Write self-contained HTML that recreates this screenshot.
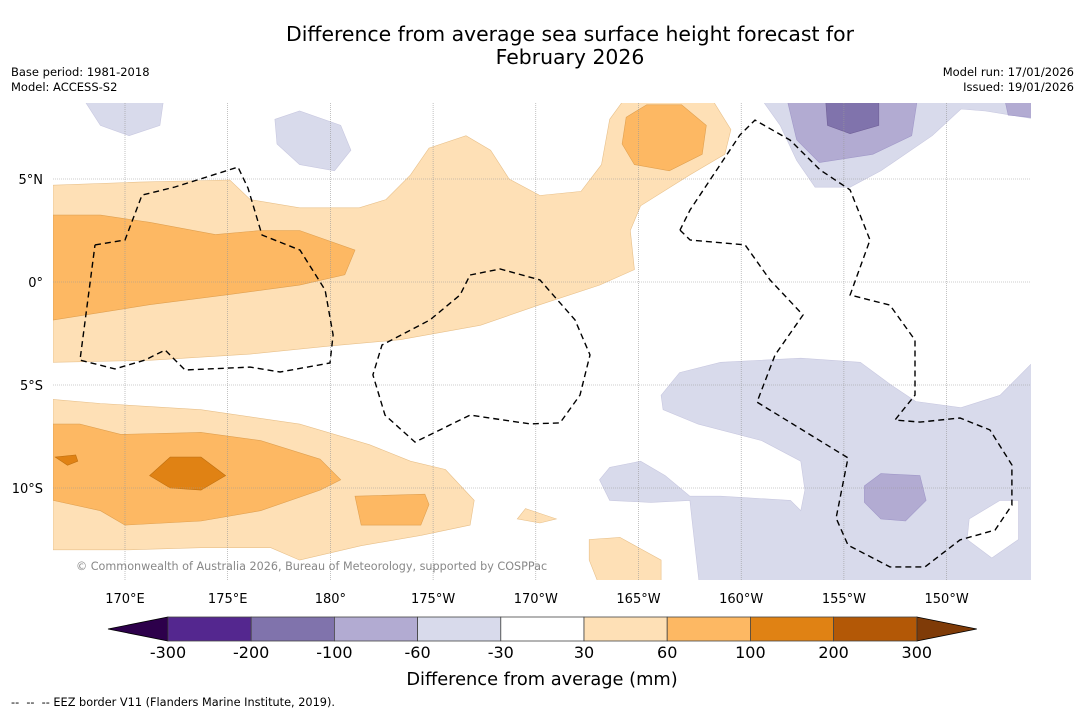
<!DOCTYPE html>
<html><head><meta charset="utf-8">
<style>
html,body{margin:0;padding:0;background:#fff;}
body{width:1085px;height:713px;overflow:hidden;font-family:"DejaVu Sans","Liberation Sans",sans-serif;}
svg text{font-family:"DejaVu Sans","Liberation Sans",sans-serif;}
</style></head>
<body>
<svg id="chart" width="1085" height="713" viewBox="0 0 1085 713" xmlns="http://www.w3.org/2000/svg">
<text x="570" y="41" font-size="20.4" text-anchor="middle" fill="#000">Difference from average sea surface height forecast for</text>
<text x="570" y="64" font-size="20.4" text-anchor="middle" fill="#000">February 2026</text>
<text x="11" y="76" font-size="11.5">Base period: 1981-2018</text>
<text x="11" y="91" font-size="11.5">Model: ACCESS-S2</text>
<text x="1074" y="76" font-size="11.5" text-anchor="end">Model run: 17/01/2026</text>
<text x="1074" y="91" font-size="11.5" text-anchor="end">Issued: 19/01/2026</text>
<defs><clipPath id="mapclip"><rect x="53" y="103" width="978" height="477"/></clipPath></defs>
<g id="map" clip-path="url(#mapclip)"></g>
<g id="axes"></g>
<text x="76" y="570" font-size="11.2" fill="#888">© Commonwealth of Australia 2026, Bureau of Meteorology, supported by COSPPac</text>
<g id="cbar"></g>
<text x="542" y="685" font-size="17.8" text-anchor="middle">Difference from average (mm)</text>
<text x="11" y="706" font-size="11.3">-- &#160;-- &#160;-- EEZ border V11 (Flanders Marine Institute, 2019).</text>
</svg>
<script>
// ---- data (lon in degrees east 0-360, lat in degrees) ----
const lightOrange = [
 [[166.5,4.7],[170.7,4.85],[175.1,4.95],[176.1,4.0],[178.5,3.6],[181.4,3.6],[182.7,4.0],[183.9,5.2],[184.8,6.5],[186.6,7.1],[187.8,6.4],[188.7,5.0],[190.2,4.2],[192.2,4.4],[193.2,5.7],[193.6,7.9],[194.4,9],[198.5,9],[199.5,7.4],[199.2,6.2],[197.5,5.2],[195.1,3.7],[194.6,2.5],[194.8,0.6],[193.1,-0.15],[190.2,-1.1],[187.3,-2.1],[183.4,-2.8],[180,-3.1],[176.1,-3.5],[171.2,-3.8],[166.5,-3.9]],
 [[166.5,-5.7],[168.8,-5.9],[173.7,-6.2],[178.5,-6.9],[181.9,-7.9],[183.9,-8.7],[185.6,-9.1],[187,-10.6],[186.8,-11.8],[184.4,-12.3],[181.5,-12.8],[178.5,-13.5],[177.1,-12.9],[173.7,-12.9],[170.2,-13],[166.5,-13]],
 [[192.6,-12.5],[194.1,-12.4],[196.1,-13.5],[196.1,-15],[193.2,-15],[192.6,-13.5]],
 [[189.1,-11.5],[189.5,-11],[191,-11.5],[190.2,-11.7]]
];
const midOrange = [
 [[166.5,3.25],[168.8,3.25],[171.2,2.9],[174.4,2.3],[176.6,2.5],[178.5,2.5],[181.2,1.55],[180.7,0.35],[178.5,-0.15],[175.1,-0.6],[171.2,-1.1],[166.5,-1.85]],
 [[166.5,-6.9],[167.8,-6.9],[169.8,-7.4],[173.7,-7.3],[176.6,-7.7],[179.5,-8.6],[180.5,-9.6],[179.5,-10.1],[176.6,-11.1],[173.7,-11.6],[170,-11.8],[168.8,-11.1],[166.5,-10.6]],
 [[181.2,-10.4],[184.6,-10.3],[184.8,-10.8],[184.4,-11.8],[181.5,-11.8]],
 [[194.4,8.0],[195.4,8.6],[197.1,8.6],[198.3,7.6],[198.1,6.2],[196.5,5.4],[194.8,5.7],[194.2,6.7]]
];
const darkOrange = [
 [[171.2,-9.4],[172.2,-8.5],[173.7,-8.5],[174.9,-9.4],[173.7,-10.1],[172.2,-10]],
 [[166.6,-8.5],[167.6,-8.4],[167.7,-8.7],[167.2,-8.9]]
];
const lightPurple = [
 [[167.9,9],[171.9,9],[171.7,7.6],[170.2,7.1],[168.8,7.6]],
 [[177.3,7.9],[178.5,8.3],[180.5,7.6],[181,6.4],[180.2,5.4],[178.5,5.7],[177.4,6.7]],
 [[200.9,9],[215,9],[215,7.8],[211.9,8.3],[210.7,8.4],[209.3,7.1],[206.8,5.4],[205.3,4.6],[203.6,4.6],[202.7,5.9],[201.9,7.6]],
 [[196.1,-5.5],[197,-4.4],[199,-3.9],[202.9,-3.7],[205.8,-3.9],[207.3,-5],[208.5,-5.8],[210.7,-6.1],[212.6,-5.5],[214.1,-4],[215,-3.6],[215,-15],[198,-15],[197.6,-11.5],[197.5,-10.6],[195.6,-10.7],[193.6,-10.6],[193.1,-9.6],[193.6,-9],[195.1,-8.7],[196.3,-9.4],[197.5,-10.4],[199,-10.4],[202.4,-10.6],[202.9,-11.1],[203.1,-10.1],[202.9,-8.7],[201,-7.7],[197.9,-6.9],[196.2,-6.2]]
];
const whiteHoles = [
 [[211.1,-11.5],[212.6,-10.6],[213.5,-10.6],[213.5,-12.5],[212.2,-13.4],[211,-12.5]]
];
const midPurple = [
 [[202.2,9],[208.6,9],[208.3,7.1],[206.4,6.2],[203.8,5.8],[202.7,6.9]],
 [[212.8,9],[215,9],[215,7.9],[213,8.1]],
 [[206,-9.9],[206.8,-9.3],[208.7,-9.4],[209,-10.6],[208,-11.6],[206.8,-11.5],[206,-10.7]]
];
const darkPurple = [
 [[204.1,9],[206.7,9],[206.7,7.6],[205.3,7.2],[204.2,7.6]]
];
const eezLines = [
 [[168.54,1.80],[170.0,2.04],[170.83,4.22],[172.43,4.61],[175.5,5.58],[175.99,4.56],[176.67,2.28],[178.52,1.55],[179.74,-0.39],[180.13,-2.57],[179.98,-3.93],[177.55,-4.37],[176.09,-4.13],[172.92,-4.27],[171.95,-3.3],[170.97,-3.79],[169.51,-4.22],[167.81,-3.79],[168.54,1.80]],
 [[186.8,0.34],[188.26,0.63],[190.2,0.1],[191.91,-1.84],[192.64,-3.54],[192.15,-5.49],[191.18,-6.84],[189.72,-6.89],[186.8,-6.46],[184.12,-7.77],[182.66,-6.46],[182.07,-4.51],[182.51,-3.06],[184.85,-1.84],[186.31,-0.63],[186.8,0.34]],
 [[197.02,2.52],[197.51,2.04],[200.19,1.8],[201.4,0.1],[203.01,-1.6],[201.65,-3.54],[200.77,-5.83],[205.2,-8.54],[204.62,-11.46],[205.2,-12.77],[207.24,-13.83],[208.95,-13.83],[210.65,-12.52],[212.36,-12.04],[213.18,-10.83],[213.18,-8.88],[212.11,-7.18],[210.65,-6.6],[208.7,-6.8],[207.49,-6.7],[208.46,-5.49],[208.46,-2.82],[207.24,-1.12],[205.3,-0.63],[206.27,2.04],[205.3,4.47],[203.84,5.44],[202.38,6.89],[200.67,7.86],[199.94,7.14],[198.48,4.95],[197.51,3.5],[197.02,2.52]]
];
const lonTicks = [170,175,180,185,190,195,200,205,210];
const lonLabels = ["170°E","175°E","180°","175°W","170°W","165°W","160°W","155°W","150°W"];
const latTicks = [5,0,-5,-10];
const latLabels = ["5°N","0°","5°S","10°S"];
const cbarLevels = ["-300","-200","-100","-60","-30","30","60","100","200","300"];
const cbarColors = ["#54278f","#8073ac","#b2abd2","#d8daeb","#ffffff","#fee0b6","#fdb863","#e08214","#b35806"];
const cbarExtColors = ["#2d004b","#7f3b08"];

// ---- axis functions ----
const X = lon => 125 + (lon - 170) * 20.54;
const Y = lat => 282 - lat * 20.6;
const NS = "http://www.w3.org/2000/svg";
function mk(tag, attrs, parent){ const e=document.createElementNS(NS,tag); for(const k in attrs) e.setAttribute(k,attrs[k]); parent.appendChild(e); return e; }
const pts = arr => arr.map(p => X(p[0]).toFixed(1)+","+Y(p[1]).toFixed(1)).join(" ");

const map = document.getElementById("map");
function layer(polys, fill, stroke, name){
  polys.forEach(p => {
    const el = mk("polygon",{points:pts(p),fill:fill,stroke:stroke,"stroke-width":0.6},map);
    
    
  });
}
layer(lightOrange,"#fee0b6","#e8c08a","contour-30-60");
layer(midOrange,"#fdb863","#e0a050","contour-60-100");
layer(darkOrange,"#e08214","#c07010","contour-100-200");
layer(lightPurple,"#d8daeb","#c8c8e0","contour-neg30-neg60");
layer(whiteHoles,"#ffffff","#c8c8e0","contour-hole");
layer(midPurple,"#b2abd2","#a098c8","contour-neg60-neg100");
layer(darkPurple,"#8073ac","#706098","contour-neg100-neg200");

// gridlines
lonTicks.forEach(l => {
  const g = mk("line",{x1:X(l),x2:X(l),y1:103,y2:580,stroke:"#999","stroke-width":0.6,"stroke-dasharray":"1,1"},map);
  
  
});
latTicks.forEach(l => {
  const g = mk("line",{x1:53,x2:1031,y1:Y(l),y2:Y(l),stroke:"#999","stroke-width":0.6,"stroke-dasharray":"1,1"},map);
  
  
});
// EEZ
eezLines.forEach(p => {
  const el = mk("polyline",{points:pts(p),fill:"none",stroke:"#000","stroke-width":1.4,"stroke-dasharray":"6,4"},map);
  
  
});

// axis labels
const axes = document.getElementById("axes");
lonTicks.forEach((l,i) => {
  const t = mk("text",{x:X(l),y:603,"font-size":13,"text-anchor":"middle"},axes);
  t.textContent = lonLabels[i];
  
  
});
latTicks.forEach((l,i) => {
  const t = mk("text",{x:43,y:Y(l)+5,"font-size":13,"text-anchor":"end"},axes);
  t.textContent = latLabels[i];
  
  
});

// colorbar
const cb = document.getElementById("cbar");
const cx0 = 168, cw = 83.2, cy = 617, ch = 24;
const tri1 = mk("polygon",{points:`108,${cy+ch/2} ${cx0},${cy} ${cx0},${cy+ch}`,fill:cbarExtColors[0],stroke:"#000","stroke-width":0.8},cb);


const xEnd = cx0 + cw*cbarColors.length;
const tri2 = mk("polygon",{points:`${xEnd},${cy} ${xEnd+60},${cy+ch/2} ${xEnd},${cy+ch}`,fill:cbarExtColors[1],stroke:"#000","stroke-width":0.8},cb);


cbarColors.forEach((c,i) => {
  const r = mk("rect",{x:cx0+i*cw,y:cy,width:cw,height:ch,fill:c,stroke:"#444","stroke-width":0.8},cb);
  
  
});
cbarLevels.forEach((lv,i) => {
  const t = mk("text",{x:cx0+i*cw,y:658,"font-size":16,"text-anchor":"middle"},cb);
  t.textContent = lv;
  
  
});
</script>
</body></html>
